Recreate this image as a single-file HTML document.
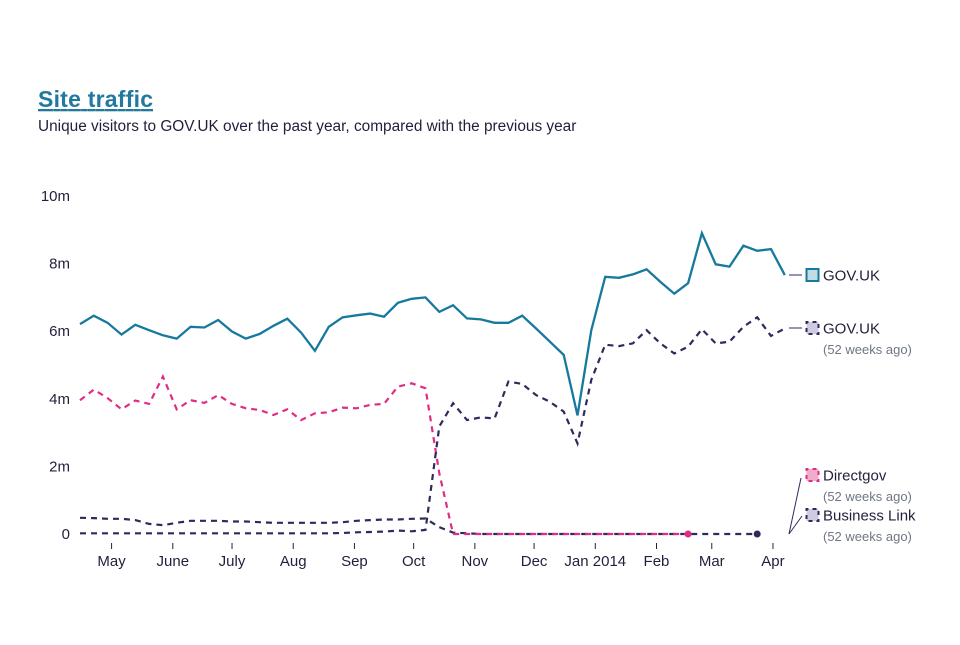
<!DOCTYPE html>
<html><head><meta charset="utf-8"><style>
body{margin:0;background:#fff;width:960px;height:640px;overflow:hidden;font-family:"Liberation Sans",sans-serif;color:#231f3a}
svg text{font-family:"Liberation Sans",sans-serif}
</style></head><body>
<svg id="chart" width="960" height="640" xmlns="http://www.w3.org/2000/svg">
<text x="38" y="107" font-size="23" font-weight="bold" fill="#22789e" text-decoration="underline" textLength="115" lengthAdjust="spacing">Site traffic</text>
<text x="38" y="131" font-size="15.4" fill="#231f3a">Unique visitors to GOV.UK over the past year, compared with the previous year</text>
<g id="axes"></g><g id="series"></g><g id="legend"></g>
</svg>
<script>
const startDate = new Date(2013,3,15);
const govuk = [6.21,6.46,6.25,5.90,6.19,6.03,5.88,5.78,6.13,6.11,6.33,5.99,5.78,5.92,6.16,6.37,5.96,5.42,6.13,6.41,6.47,6.52,6.43,6.84,6.96,7.00,6.57,6.77,6.38,6.35,6.25,6.25,6.46,6.08,5.69,5.30,3.51,6.03,7.61,7.58,7.68,7.83,7.46,7.11,7.42,8.90,7.98,7.91,8.53,8.38,8.43,7.66];
const govukPrev = [0.02,0.02,0.02,0.02,0.02,0.02,0.02,0.02,0.02,0.02,0.02,0.02,0.02,0.02,0.02,0.02,0.02,0.02,0.02,0.03,0.05,0.06,0.07,0.10,0.08,0.12,3.18,3.87,3.37,3.45,3.42,4.51,4.44,4.11,3.91,3.62,2.68,4.56,5.60,5.56,5.64,6.03,5.64,5.34,5.54,6.06,5.64,5.69,6.13,6.41,5.86,6.08];
const directgov = [3.96,4.27,4.02,3.69,3.95,3.85,4.66,3.69,3.96,3.88,4.11,3.85,3.72,3.67,3.52,3.69,3.37,3.57,3.60,3.74,3.72,3.82,3.85,4.36,4.46,4.31,1.80,0,0,0,0,0,0,0,0,0,0,0,0,0,0,0,0,0,0,null,null,null,null,null,null,null];
const businessLink = [0.48,0.47,0.45,0.45,0.41,0.30,0.26,0.33,0.39,0.39,0.39,0.37,0.37,0.35,0.33,0.33,0.33,0.33,0.33,0.35,0.39,0.41,0.43,0.43,0.45,0.46,0.20,0.04,0.02,0,0,0,0,0,0,0,0,0,0,0,0,0,0,0,0,0,0,0,0,0,null,null];
const yTicks = [0,2,4,6,8,10];
const yTickLabels = ["0","2m","4m","6m","8m","10m"];
const monthTicks = [[2013,4],[2013,5],[2013,6],[2013,7],[2013,8],[2013,9],[2013,10],[2013,11],[2014,0],[2014,1],[2014,2],[2014,3]];
const monthLabels = ["May","June","July","Aug","Sep","Oct","Nov","Dec","Jan 2014","Feb","Mar","Apr"];

const NS="http://www.w3.org/2000/svg";
const X0=80, WEEK=13.82, Y0=534, PXM=33.8;
const xIdx = i => X0 + i*WEEK;
const xDate = d => X0 + (d - startDate)/86400000/7*WEEK;
const y = v => Y0 - v*PXM;
function mk(tag, attrs, parent){const e=document.createElementNS(NS,tag);for(const k in attrs)e.setAttribute(k,attrs[k]);parent.appendChild(e);return e;}
const axes=document.getElementById('axes'), ser=document.getElementById('series'), leg=document.getElementById('legend');

yTicks.forEach((t,i)=>{
  const tx=mk('text',{x:70,y:y(t)+5,'font-size':15,'text-anchor':'end',fill:'#231f3a'},axes);
  tx.textContent=yTickLabels[i];
  
  
});
monthTicks.forEach((m,i)=>{
  const xx=xDate(new Date(m[0],m[1],1));
  const l=mk('line',{x1:xx,x2:xx,y1:543,y2:549,stroke:'#231f3a','stroke-width':1},axes);
  
  
  const tx=mk('text',{x:xx,y:566,'font-size':15,'text-anchor':'middle',fill:'#231f3a'},axes);
  tx.textContent=monthLabels[i];
  
  
});

function pathOf(arr){let d='',pen=false;arr.forEach((v,i)=>{if(v==null){pen=false;return;}d+=(pen?'L':'M')+xIdx(i).toFixed(1)+','+y(v).toFixed(1);pen=true;});return d;}
function lastIdx(arr){let k=-1;arr.forEach((v,i)=>{if(v!=null)k=i;});return k;}

const bl=mk('path',{d:pathOf(businessLink),fill:'none',stroke:'#2f2a5e','stroke-width':2.2,'stroke-dasharray':'6,5'},ser);


const bli=lastIdx(businessLink);
const bld=mk('circle',{cx:xIdx(bli),cy:y(businessLink[bli]),r:3.5,fill:'#2f2a5e'},ser);



const dg=mk('path',{d:pathOf(directgov),fill:'none',stroke:'#df2d86','stroke-width':2.2,'stroke-dasharray':'6,5'},ser);


const dgi=lastIdx(directgov);
const dgd=mk('circle',{cx:xIdx(dgi),cy:y(directgov[dgi]),r:3.5,fill:'#df2d86'},ser);



const gp=mk('path',{d:pathOf(govukPrev),fill:'none',stroke:'#2f2a5e','stroke-width':2.2,'stroke-dasharray':'6,5'},ser);



const g=mk('path',{d:pathOf(govuk),fill:'none',stroke:'#16799d','stroke-width':2.3},ser);



function legendItem(name, cy, fill, stroke, dashed, label, sub){
  const grp=mk('g',{},leg);
  
  
  mk('rect',{x:806.5,y:cy-6,width:12,height:12,fill:fill,stroke:stroke,'stroke-width':2,'stroke-dasharray':dashed?'4,4':'none','stroke-dashoffset':dashed?2:0},grp);
  const t=mk('text',{x:823,y:cy+5.5,'font-size':15,fill:'#231f3a'},grp);t.textContent=label;
  if(sub){const s=mk('text',{x:823,y:cy+26,'font-size':13,fill:'#6f7683'},grp);s.textContent=sub;}
}
mk('line',{x1:789,y1:275,x2:802,y2:275,stroke:'#2f2a5e'},leg);
mk('line',{x1:789,y1:328,x2:802,y2:328,stroke:'#2f2a5e'},leg);
mk('line',{x1:801,y1:478,x2:789,y2:534,stroke:'#2f2a5e'},leg);
mk('line',{x1:802,y1:516,x2:789,y2:534,stroke:'#2f2a5e'},leg);
legendItem('legend-govuk',275,'#c3dce4','#16799d',false,'GOV.UK',null);
legendItem('legend-govuk-prev',328,'#cfcbe0','#2f2a5e',true,'GOV.UK','(52 weeks ago)');
legendItem('legend-directgov',475,'#f0abcd','#df2d86',true,'Directgov','(52 weeks ago)');
legendItem('legend-business-link',515,'#cfcbe0','#2f2a5e',true,'Business Link','(52 weeks ago)');
</script>
</body></html>
